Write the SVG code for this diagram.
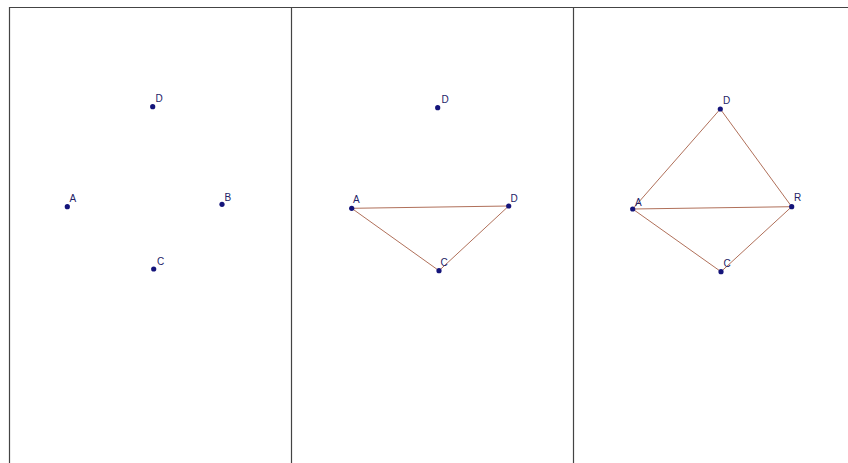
<svg xmlns="http://www.w3.org/2000/svg" width="848" height="463" viewBox="0 0 848 463">
<style>
.frame{stroke:#444;stroke-width:1.2;fill:none}
.seg{stroke:#b0705a;stroke-width:1;fill:none}
.pt{fill:#14147a}
.lb{font-family:"Liberation Sans",Arial,sans-serif;font-size:10px;fill:#222266}
</style>
<rect width="848" height="463" fill="#fff"/>
<g id="frame">
<path class="frame" d="M9.5 463V7.5H848M291.5 7.5V463M573.5 7.5V463"/>
</g>
<g id="connectors">
<line class="seg" x1="351.7" y1="208.3" x2="508.7" y2="206"/>
<line class="seg" x1="351.7" y1="208.3" x2="439" y2="270.7"/>
<line class="seg" x1="508.7" y1="206" x2="439" y2="270.7"/>
<line class="seg" x1="632.7" y1="209" x2="720.3" y2="109"/>
<line class="seg" x1="720.3" y1="109" x2="791.7" y2="206.7"/>
<line class="seg" x1="632.7" y1="209" x2="791.7" y2="206.7"/>
<line class="seg" x1="632.7" y1="209" x2="721" y2="271.7"/>
<line class="seg" x1="791.7" y1="206.7" x2="721" y2="271.7"/>
</g>
<g id="p1-D"><circle class="pt" cx="152.7" cy="106.7" r="2.6"/><text class="lb" x="155.5" y="102">D</text></g>
<g id="p1-A"><circle class="pt" cx="67.3" cy="206.7" r="2.6"/><text class="lb" x="69.5" y="202">A</text></g>
<g id="p1-B"><circle class="pt" cx="222" cy="204.3" r="2.6"/><text class="lb" x="224.5" y="200.5">B</text></g>
<g id="p1-C"><circle class="pt" cx="153.7" cy="269" r="2.6"/><text class="lb" x="157" y="264.5">C</text></g>
<g id="p2-D1"><circle class="pt" cx="437.7" cy="107.7" r="2.6"/><text class="lb" x="441.5" y="103">D</text></g>
<g id="p2-A"><circle class="pt" cx="351.7" cy="208.3" r="2.6"/><text class="lb" x="353" y="203">A</text></g>
<g id="p2-D2"><circle class="pt" cx="508.7" cy="206" r="2.6"/><text class="lb" x="510.5" y="201.5">D</text></g>
<g id="p2-C"><circle class="pt" cx="439" cy="270.7" r="2.6"/><text class="lb" x="440.5" y="265.5">C</text></g>
<g id="p3-D"><circle class="pt" cx="720.3" cy="109" r="2.6"/><text class="lb" x="723" y="104">D</text></g>
<g id="p3-A"><circle class="pt" cx="632.7" cy="209" r="2.6"/><text class="lb" x="635" y="205.5">A</text></g>
<g id="p3-R"><circle class="pt" cx="791.7" cy="206.7" r="2.6"/><text class="lb" x="794" y="201">R</text></g>
<g id="p3-C"><circle class="pt" cx="721" cy="271.7" r="2.6"/><text class="lb" x="723.5" y="266.5">C</text></g>
</svg>
